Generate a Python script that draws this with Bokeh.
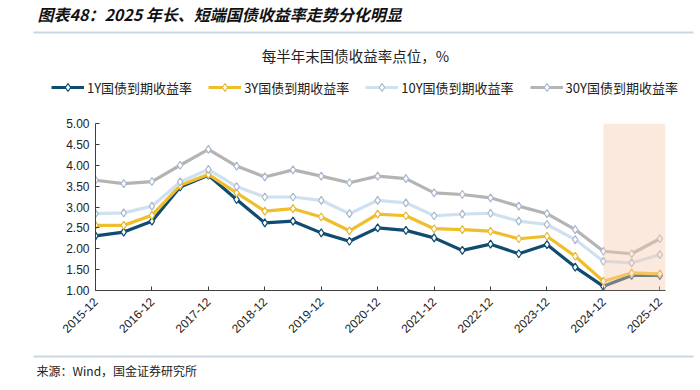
import math
from bokeh.plotting import figure
from bokeh.layouts import column
from bokeh.models import (Range1d, FixedTicker, Legend, LegendItem, Label,
                          BoxAnnotation, ColumnDataSource)
from bokeh.embed import file_html
from bokeh.resources import INLINE

# ---------------- data ----------------
dates = ["2015-12", "2016-06", "2016-12", "2017-06", "2017-12", "2018-06",
         "2018-12", "2019-06", "2019-12", "2020-06", "2020-12", "2021-06",
         "2021-12", "2022-06", "2022-12", "2023-06", "2023-12", "2024-06",
         "2024-12", "2025-06", "2025-12"]
y_1y = [2.31, 2.40, 2.66, 3.48, 3.76, 3.18, 2.62, 2.66, 2.38, 2.18, 2.50,
        2.44, 2.26, 1.96, 2.11, 1.88, 2.10, 1.56, 1.10, 1.36, 1.36]
y_3y = [2.56, 2.56, 2.80, 3.52, 3.78, 3.34, 2.90, 2.96, 2.76, 2.43, 2.83,
        2.79, 2.48, 2.46, 2.42, 2.24, 2.30, 1.82, 1.22, 1.42, 1.40]
y_10y = [2.84, 2.86, 3.02, 3.60, 3.90, 3.49, 3.24, 3.24, 3.16, 2.84, 3.16,
         3.10, 2.79, 2.83, 2.85, 2.66, 2.58, 2.22, 1.70, 1.66, 1.86]
y_30y = [3.64, 3.56, 3.61, 4.00, 4.38, 3.98, 3.72, 3.89, 3.74, 3.58, 3.74,
         3.68, 3.34, 3.30, 3.22, 3.02, 2.84, 2.46, 1.94, 1.88, 2.24]
series_names = ["1Y国债到期收益率", "3Y国债到期收益率", "10Y国债到期收益率", "30Y国债到期收益率"]
y_ticks = [1.0, 1.5, 2.0, 2.5, 3.0, 3.5, 4.0, 4.5, 5.0]
x_tick_labels = [d for d in dates if d.endswith("-12")]
highlight_start = "2024-12"
title_text = "图表48：2025 年长、短端国债收益率走势分化明显"
subtitle_text = "每半年末国债收益率点位，%"
source_text = "来源：Wind，国金证券研究所"

# ---------------- style ----------------
line_colors = ["#0F4C70", "#F1BE2B", "#CFE0F1", "#B4B4B4"]
marker_lines = ["#0F4C70", "#E8B830", "#A9B8CF", "#A9B8CF"]
CJK = "Noto Sans CJK SC"
LAT = "Liberation Sans"
RULE = "#C9D7E3"
W = 700

xs = list(range(len(dates)))
series = [y_1y, y_3y, y_10y, y_30y]


def blank(height):
    f = figure(width=W, height=height, output_backend="svg",
               toolbar_location=None, x_range=Range1d(0, W),
               y_range=Range1d(height, 0), x_axis_location=None,
               y_axis_location=None, min_border=0)
    f.min_border_left = f.min_border_right = 0
    f.min_border_top = f.min_border_bottom = 0
    f.outline_line_color = None
    f.xgrid.grid_line_color = None
    f.ygrid.grid_line_color = None
    return f


# ---------------- header ----------------
HH = 100
head = blank(HH)
head.add_layout(Label(x=37, y=13, text=title_text, text_baseline="middle",
                      text_font=CJK, text_font_size="16px",
                      text_font_style="bold italic", text_color="#111111"))
head.add_layout(BoxAnnotation(left=33, right=693, top=31, bottom=33,
                              fill_color=RULE, fill_alpha=1, line_alpha=0))
head.add_layout(Label(x=355, y=55, text=subtitle_text, text_align="center",
                      text_baseline="middle", text_font=CJK,
                      text_font_size="14.5px", text_color="#222222"))

# legend glyph carriers (hidden copies of the series, only used by the legend)
items = []
for name, ys, lc, mc in zip(series_names, series, line_colors, marker_lines):
    src = ColumnDataSource(dict(x=xs, y=ys))
    lr = head.line("x", "y", source=src, line_color=lc, line_width=3.2,
                   visible=False)
    sr = head.scatter("x", "y", source=src, marker="diamond", size=8,
                      fill_color="white", line_color=mc, line_width=1.2,
                      visible=False)
    items.append(LegendItem(label=name, renderers=[lr, sr]))
legend = Legend(items=items, orientation="horizontal", location=(51, 3),
                glyph_width=33, glyph_height=20, label_height=20,
                label_standoff=3, spacing=16, padding=0, margin=0,
                border_line_alpha=0, background_fill_alpha=0,
                inactive_fill_alpha=0,
                label_text_font=CJK, label_text_font_size="13px",
                label_text_color="#222222")
head.add_layout(legend)

# ---------------- main chart ----------------
p = figure(width=W, height=250, output_backend="svg", toolbar_location=None,
           x_range=Range1d(0, 20.2), y_range=Range1d(1, 5),
           min_border_left=95, min_border_right=35, min_border_top=23,
           min_border_bottom=60)
p.outline_line_color = None
p.xgrid.grid_line_color = None
p.ygrid.grid_line_color = None

for ys, lc, mc in zip(series, line_colors, marker_lines):
    src = ColumnDataSource(dict(x=xs, y=ys))
    p.line("x", "y", source=src, line_color=lc, line_width=3.2)
    p.scatter("x", "y", source=src, marker="diamond", size=8,
              fill_color="white", line_color=mc, line_width=1.2)

band = BoxAnnotation(left=dates.index(highlight_start), fill_color="#F8CBAD",
                     fill_alpha=0.42, line_alpha=0)
p.add_layout(band)

tick_pos = [dates.index(d) for d in x_tick_labels]
p.xaxis.ticker = FixedTicker(ticks=tick_pos)
p.xaxis.major_label_overrides = {i: dates[i] for i in tick_pos}
p.xaxis.major_label_orientation = math.pi / 4
p.yaxis.ticker = FixedTicker(ticks=y_ticks)
p.yaxis.major_label_overrides = {t: f"{t:.2f}" for t in y_ticks}
for ax in (p.xaxis, p.yaxis):
    ax.axis_line_color = "#3F3F3F"
    ax.major_tick_line_color = "#3F3F3F"
    ax.major_tick_in = 4
    ax.major_tick_out = 0
    ax.minor_tick_line_color = None
    ax.major_label_text_font = LAT
    ax.major_label_text_font_size = "12px"
    ax.major_label_text_color = "#222222"
p.yaxis.major_label_standoff = 6
p.xaxis.major_label_standoff = 9

# ---------------- footer ----------------
FH = 40
foot = blank(FH)
foot.add_layout(BoxAnnotation(left=33, right=693, top=5, bottom=7,
                              fill_color=RULE, fill_alpha=1, line_alpha=0))
foot.add_layout(Label(x=36, y=20, text=source_text, text_baseline="middle",
                      text_font=CJK, text_font_size="12px",
                      text_color="#222222"))

layout = column(column(head), column(p), column(foot), spacing=0)
open("out.html", "w").write(file_html(layout, INLINE))
